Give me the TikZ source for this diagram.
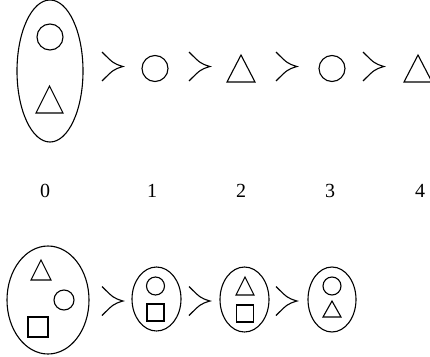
\documentclass[tikz,border=0pt]{standalone}
\usepackage{fontspec}
\setmainfont{Liberation Serif}
\begin{document}
\begin{tikzpicture}[x=1pt, y=-1pt]

    % --------------------
    % Estilos
    % --------------------
    \tikzset{
        forma/.style={draw, line width=1.1pt},
        rotulo/.style={font=\fontsize{20}{24}\selectfont, inner sep=0pt},
        succ/.pic={
            \draw[forma] (-10.5,-14.5) .. controls (1,-3) .. (10.5,0)
                         .. controls (1,3) .. (-10.5,14.5);
        }
    }

    \useasboundingbox (0,0) rectangle (430,356);

    % --------------------
    % Linha de cima
    % --------------------
    \draw[forma] (50,71) ellipse [x radius=33, y radius=71];
    \draw[forma] (50,37) circle (13);
    \draw[forma] (49.5,86) -- (63,113) -- (36,113) -- cycle;

    \foreach \x in {112.5,199.5,286.5,373.5}
        \pic at (\x,66.5) {succ};

    \draw[forma] (155,68.5) circle (13);
    \draw[forma] (241,55) -- (255,82) -- (227,82) -- cycle;
    \draw[forma] (332,68.5) circle (13);
    \draw[forma] (418,55) -- (432,82) -- (404,82) -- cycle;

    % Numeração
    \foreach \n/\x in {0/45,1/152,2/241,3/330,4/420}
        \node[rotulo] (r\n) at (\x,190.5) {\n};

    % --------------------
    % Linha de baixo
    % --------------------
    \draw[forma] (48,300) ellipse [x radius=41, y radius=54];
    \draw[forma] (41,260) -- (51,280) -- (31,280) -- cycle;
    \draw[forma] (64,300) circle (10);
    \draw[forma] (28,317) rectangle (48,337);

    \foreach \x in {112.5,199.5,286.5}
        \pic at (\x,301) {succ};

    \draw[forma] (156.5,299) ellipse [x radius=24.5, y radius=32];
    \draw[forma] (155.5,286) circle (9);
    \draw[forma] (147,304) rectangle (164,321);

    \draw[forma] (244.5,299.5) ellipse [x radius=24.5, y radius=32.5];
    \draw[forma] (245,277) -- (254,295) -- (236,295) -- cycle;
    \draw[forma] (236.5,305) rectangle (253.5,322);

    \draw[forma] (332,299.5) ellipse [x radius=24, y radius=32.5];
    \draw[forma] (332,286) circle (9);
    \draw[forma] (332,301) -- (341,317) -- (323,317) -- cycle;

\end{tikzpicture}
\end{document}
